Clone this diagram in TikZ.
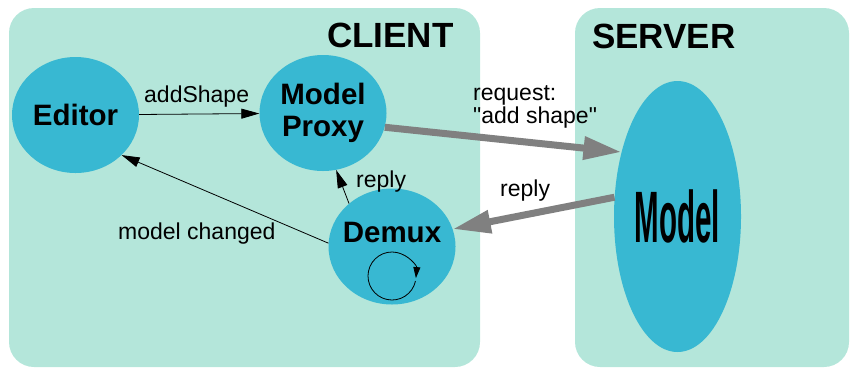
\documentclass[tikz,border=0pt]{standalone}
\usepackage{fontspec}
\setmainfont{Liberation Sans}[Ligatures=TeXOff]
\usetikzlibrary{arrows.meta,shapes.geometric}
\definecolor{panelfill}{RGB}{180,230,218}
\definecolor{nodefill}{RGB}{56,184,210}
\definecolor{pipe}{RGB}{128,128,128}
\tikzset{
  panel/.style={fill=panelfill, rounded corners=25pt},
  blob/.style={ellipse, fill=nodefill, inner sep=0pt, minimum width=127pt,
    minimum height=116pt, align=center,
    font=\bfseries\fontsize{29.5}{32}\selectfont},
  title/.style={font=\bfseries\fontsize{35}{40}\selectfont, anchor=base west, inner sep=0pt},
  lbl/.style={font=\fontsize{23}{23}\selectfont, anchor=base west, inner sep=0pt},
  msg/.style={draw=black, line width=0.8pt, -{Triangle[length=18pt,width=10pt]}},
  wire/.style={draw=pipe, line width=7pt, -{Triangle[length=38pt,width=22pt]}},
}
\begin{document}
\begin{tikzpicture}[x=1pt,y=-1pt]
\useasboundingbox (0,0) rectangle (850,368);

% process panels
\path[panel] (9,8) rectangle (480,367);
\path[panel] (575,8) rectangle (849,367);
\node[title] (client) at (327,47) {CLIENT};
\node[title] (server) at (592,48) {SERVER};

% components
\node[blob] (editor) at (75.5,115) {Editor};
\node[blob] (proxy) at (323,113) {Model\\Proxy};
\node[blob] (demux) at (392,246.5) {};
\node[font=\bfseries\fontsize{29.5}{32}\selectfont, anchor=base, inner sep=0pt]
  (demuxlabel) at (392,242) {Demux};
\node[blob, minimum height=271pt] (model) at (677.5,216.5)
  {\scalebox{1}[2.47]{Model}};

% dispatch loop inside the demultiplexer
\draw[line width=0.8pt, -{Triangle[length=11pt,width=7pt]}]
  (392,276) ++(12:24) arc[start angle=12, end angle=365, radius=24];

% local messages
\draw[msg] (editor) -- (proxy);
\draw[msg] (demux.177) -- (editor.319);
\draw[msg] (demux.135) -- (proxy.283);

% remote traffic
\draw[wire] (proxy.347) -- (model.131);
\draw[wire] (model.163) -- (demux.16);

% message labels
\node[lbl] (addlbl) at (144,102) {addShape};
\node[lbl] (req1) at (473,100) {request:};
\node[lbl] (req2) at (473,123) {"add shape"};
\node[lbl] (reply1) at (356,187) {reply};
\node[lbl] (reply2) at (500,196) {reply};
\node[lbl] (changed) at (118,239) {model changed};
\end{tikzpicture}
\end{document}
